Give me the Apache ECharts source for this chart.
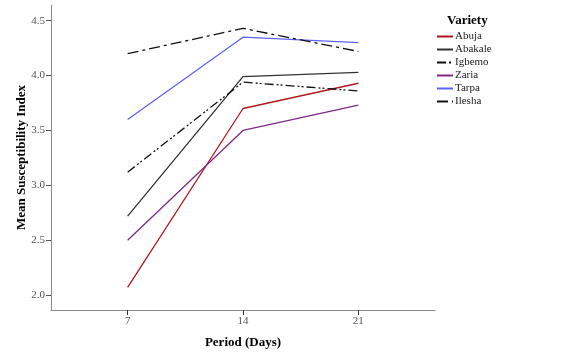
<!DOCTYPE html>
<html><head><meta charset="utf-8">
<script src="https://cdn.jsdelivr.net/npm/echarts@6/dist/echarts.min.js"></script>
<style>html,body{margin:0;padding:0;background:#fff}#c{width:583px;height:361px}</style>
</head><body><div id="c"></div>
<script>
const periods = [7, 14, 21];
const varieties = ['Abuja', 'Abakale', 'Igbemo', 'Zaria', 'Tarpa', 'Ilesha'];
const abuja = [2.07, 3.70, 3.93];
const abakale = [2.72, 3.99, 4.03];
const igbemo = [3.12, 3.94, 3.86];
const zaria = [2.50, 3.50, 3.73];
const tarpa = [3.60, 4.35, 4.30];
const ilesha = [4.20, 4.43, 4.22];
const yTicks = [2.0, 2.5, 3.0, 3.5, 4.0, 4.5];

const values = [abuja, abakale, igbemo, zaria, tarpa, ilesha];
const colors = ['#b3171c', '#333333', '#111111', '#7d2a86', '#5f62f4', '#111111'];
const dashes = ['solid', 'solid', [9, 3, 2, 2, 2, 3], 'solid', 'solid', [11, 4, 3, 4]];
const serif = '"Liberation Serif", "DejaVu Serif", serif';

const chart = echarts.init(document.getElementById('c'));
chart.setOption({
  animation: false,
  backgroundColor: '#fff',
  grid: { left: 51, top: 5, width: 384, height: 305 },
  title: {
    text: 'Variety', left: 442, top: 9,
    textStyle: { fontFamily: serif, fontWeight: 'bold', fontSize: 13, color: '#000' }
  },
  legend: {
    orient: 'vertical', left: 431, top: 26, itemWidth: 16, itemHeight: 8, itemGap: 2,
    itemStyle: { opacity: 0 },
    textStyle: { fontFamily: serif, fontSize: 11, color: '#222', padding: [0, 0, 0, -3] },
    data: varieties
  },
  xAxis: {
    type: 'value', min: 2.35, max: 25.65,
    name: 'Period (Days)', nameLocation: 'middle', nameGap: 26,
    nameTextStyle: { fontFamily: serif, fontWeight: 'bold', fontSize: 13, color: '#000' },
    axisLine: { lineStyle: { color: '#8a8a8a', width: 1 } },
    axisTick: { show: true, length: 5, customValues: periods, lineStyle: { color: '#333' } },
    axisLabel: { customValues: periods, fontFamily: serif, fontSize: 11, color: '#555', margin: 6 },
    splitLine: { show: false }
  },
  yAxis: {
    type: 'value', min: 1.864, max: 4.643,
    name: 'Mean Susceptibility Index', nameLocation: 'middle', nameGap: 23,
    nameMoveOverlap: false,
    nameTextStyle: { fontFamily: serif, fontWeight: 'bold', fontSize: 13, color: '#000' },
    axisLine: { show: true, lineStyle: { color: '#8a8a8a', width: 1 } },
    axisTick: { show: true, length: 5, customValues: yTicks, lineStyle: { color: '#555' } },
    axisLabel: { customValues: yTicks, fontFamily: serif, fontSize: 11, color: '#555', margin: 6,
      formatter: v => v.toFixed(1) },
    splitLine: { show: false }
  },
  series: varieties.map((name, i) => ({
    name, type: 'line', symbol: 'none', showSymbol: false,
    data: periods.map((p, j) => [p, values[i][j]]),
    itemStyle: { color: colors[i] },
    lineStyle: { color: colors[i], width: 1.3, type: dashes[i] }
  }))
});
</script></body></html>
